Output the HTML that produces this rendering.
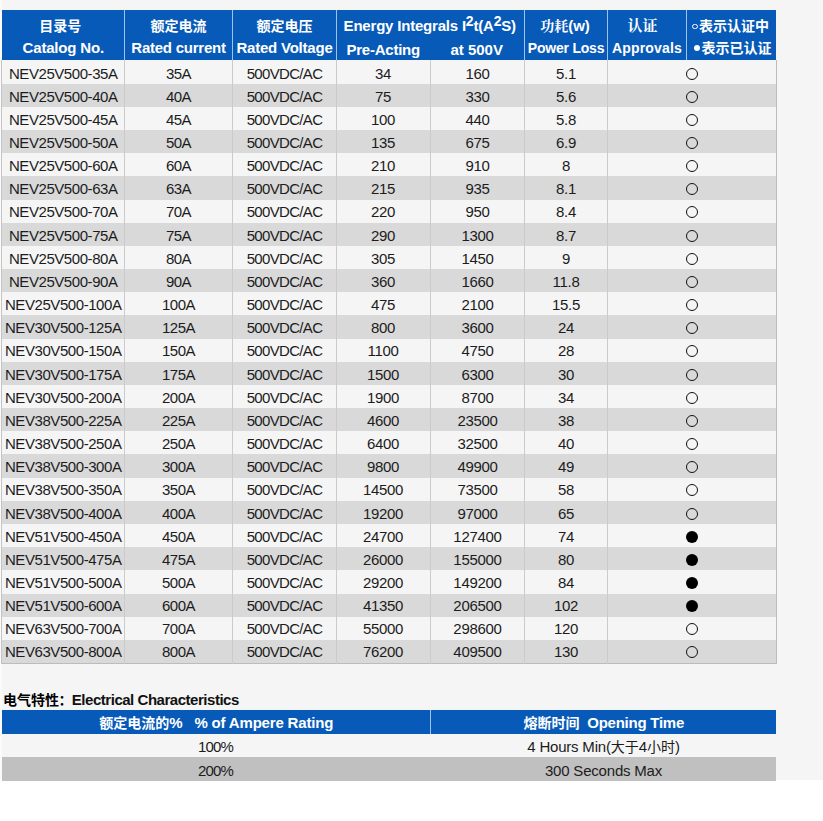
<!DOCTYPE html>
<html lang="en"><head><meta charset="utf-8"><title>NEV Fuse Specifications</title>
<style>
html,body{margin:0;padding:0;background:#fff}
body{width:823px;height:821px;position:relative;overflow:hidden;font-family:"Liberation Sans",sans-serif;font-size:15px;color:#1c1c1c}
.page{position:absolute;left:0;top:0;width:823px;height:780px;background:#f5f5f5}
span.cjk{display:inline;font-family:"Liberation Sans","Noto Sans CJK SC",sans-serif;font-size:14px;letter-spacing:0;white-space:nowrap}
span.cjk.serif{font-family:"Liberation Serif","Noto Serif CJK SC",serif}
table{border-collapse:collapse;table-layout:fixed;position:absolute;border-spacing:0}
th,td{padding:0 0 0 1px;margin:0;text-align:center;white-space:nowrap;overflow:visible;font-weight:normal}
#t1{left:2px;top:10px;width:774px}
#t1 th{background:#075ab8;color:#fff;font-weight:bold;height:50px;vertical-align:top;border-left:1px solid #9ec4ee;box-sizing:border-box}
#t1 th:first-child{border-left:none}
#t1 th .l{display:block;height:22.8px;line-height:22.8px}
#t1 th .l1{margin-top:4.6px}
#t1 td{vertical-align:top;line-height:17px;padding:4px 0 0 1px;border-left:1px solid #cbcbcb;box-sizing:border-box}
#t1 td:first-child{border-left:none}
#t1 tr.p32 td{padding-top:3.2px}
#t1 tr.p42 td{padding-top:4.2px}
#t1 tr.p52 td{padding-top:5.2px}
#t1 tr.o td{background:#f5f5f5}
#t1 tr.e td{background:#d9d9d9}
#t1 td{letter-spacing:-0.3px}
#t1 td.c1{letter-spacing:-0.43px}
#t1 td.c2{letter-spacing:-0.5px}
#t1 td.c3{letter-spacing:-0.68px}
#t1 td.c4{padding-left:0}
#t1 tbody{border-right:1px solid #bcbcbc;border-bottom:1px solid #bcbcbc}
#ls{position:absolute;left:0;top:0;width:2px;height:780px;background:#fbfbfb}
#lb{position:absolute;left:1px;top:60px;width:1px;height:604px;background:#c4c4c4}
sup{font-size:0.93em;line-height:0;vertical-align:5.4px}
.half{display:inline-block;text-align:center}
.ring{display:inline-block;width:12px;height:12px;border:1.1px solid #111;border-radius:50%;box-sizing:border-box;vertical-align:-0.8px}
.dot{display:inline-block;width:12px;height:12px;background:#000;border-radius:50%;vertical-align:-0.8px}
.sring{display:inline-block;width:5.6px;height:5.6px;border:1px solid #fff;border-radius:50%;box-sizing:border-box;vertical-align:1.2px;margin-right:1px}
.sdot{display:inline-block;width:6.6px;height:6.6px;background:#fff;border-radius:50%;vertical-align:2px;margin-right:1.2px}
#title{position:absolute;left:3px;top:689px;height:22px;line-height:22px;font-weight:bold;color:#111;white-space:nowrap;letter-spacing:-0.47px}
#t2{left:2px;top:710px;width:774px}
#t2 th{background:#075ab8;color:#fff;font-weight:bold;height:23px;line-height:21px;padding-top:2px;vertical-align:top;box-sizing:border-box}
#t2 th+th{border-left:1px solid #9ec4ee}
#t2 td{letter-spacing:-0.2px;height:23px;line-height:19px;padding:4px 0 0 1px;vertical-align:top;box-sizing:border-box}
#t2 tr.o td{background:#f5f5f5}
#t2 tr.e td{background:#c0c0c0}
</style></head>
<body>
<div class="page">
<table id="t1"><thead><tr><th style="width:122px"><span class="l l1"><span class="cjk" style="margin-right:6.2px;">目录号</span></span><span class="l" style="letter-spacing:-0.18px">Catalog No.</span></th><th style="width:108px"><span class="l l1"><span class="cjk">额定电流</span></span><span class="l" style="letter-spacing:-0.25px">Rated current</span></th><th style="width:104px"><span class="l l1"><span class="cjk">额定电压</span></span><span class="l" style="letter-spacing:-0.21px">Rated Voltage</span></th><th colspan="2" style="width:188px"><span class="l l1" style="margin-left:-1.6px;letter-spacing:-0.2px;position:relative;top:0.6px">Energy Integrals I<sup>2</sup>t(A<sup>2</sup>S)</span><span class="l" style="position:relative;top:1.7px"><span class="half" style="width:95px;margin-left:-2.6px;letter-spacing:-0.23px">Pre-Acting</span><span class="half" style="width:92px">at 500V</span></span></th><th style="width:83px"><span class="l l1" style="margin-left:-2px"><span class="cjk serif">功耗</span>(w)</span><span class="l" style="font-size:14px;letter-spacing:-0.21px">Power Loss</span></th><th style="width:79px"><span class="l l1"><span class="cjk serif" style="font-size:15px;margin-right:8.8px;">认证</span></span><span class="l" style="font-size:14px;letter-spacing:0.17px">Approvals</span></th><th style="width:90px"><span class="l l1" style="margin-left:-2px"><i class="sring"></i><span class="cjk">表示认证中</span></span><span class="l" style="padding-left:1.5px"><i class="sdot"></i><span class="cjk">表示已认证</span></span></th></tr></thead><tbody><tr class="o p52" style="height:24px"><td class="c1">NEV25V500-35A</td><td class="c2">35A</td><td class="c3">500VDC/AC</td><td class="c4">34</td><td>160</td><td>5.1</td><td colspan="2"><i class="ring"></i></td></tr><tr class="e p42" style="height:23px"><td class="c1">NEV25V500-40A</td><td class="c2">40A</td><td class="c3">500VDC/AC</td><td class="c4">75</td><td>330</td><td>5.6</td><td colspan="2"><i class="ring"></i></td></tr><tr class="o p42" style="height:23px"><td class="c1">NEV25V500-45A</td><td class="c2">45A</td><td class="c3">500VDC/AC</td><td class="c4">100</td><td>440</td><td>5.8</td><td colspan="2"><i class="ring"></i></td></tr><tr class="e p42" style="height:23px"><td class="c1">NEV25V500-50A</td><td class="c2">50A</td><td class="c3">500VDC/AC</td><td class="c4">135</td><td>675</td><td>6.9</td><td colspan="2"><i class="ring"></i></td></tr><tr class="o p42" style="height:23px"><td class="c1">NEV25V500-60A</td><td class="c2">60A</td><td class="c3">500VDC/AC</td><td class="c4">210</td><td>910</td><td>8</td><td colspan="2"><i class="ring"></i></td></tr><tr class="e p42" style="height:24px"><td class="c1">NEV25V500-63A</td><td class="c2">63A</td><td class="c3">500VDC/AC</td><td class="c4">215</td><td>935</td><td>8.1</td><td colspan="2"><i class="ring"></i></td></tr><tr class="o p32" style="height:23px"><td class="c1">NEV25V500-70A</td><td class="c2">70A</td><td class="c3">500VDC/AC</td><td class="c4">220</td><td>950</td><td>8.4</td><td colspan="2"><i class="ring"></i></td></tr><tr class="e p42" style="height:23px"><td class="c1">NEV25V500-75A</td><td class="c2">75A</td><td class="c3">500VDC/AC</td><td class="c4">290</td><td>1300</td><td>8.7</td><td colspan="2"><i class="ring"></i></td></tr><tr class="o p42" style="height:23px"><td class="c1">NEV25V500-80A</td><td class="c2">80A</td><td class="c3">500VDC/AC</td><td class="c4">305</td><td>1450</td><td>9</td><td colspan="2"><i class="ring"></i></td></tr><tr class="e p42" style="height:23px"><td class="c1">NEV25V500-90A</td><td class="c2">90A</td><td class="c3">500VDC/AC</td><td class="c4">360</td><td>1660</td><td>11.8</td><td colspan="2"><i class="ring"></i></td></tr><tr class="o p42" style="height:23px"><td class="c1">NEV25V500-100A</td><td class="c2">100A</td><td class="c3">500VDC/AC</td><td class="c4">475</td><td>2100</td><td>15.5</td><td colspan="2"><i class="ring"></i></td></tr><tr class="e p42" style="height:24px"><td class="c1">NEV30V500-125A</td><td class="c2">125A</td><td class="c3">500VDC/AC</td><td class="c4">800</td><td>3600</td><td>24</td><td colspan="2"><i class="ring"></i></td></tr><tr class="o p32" style="height:23px"><td class="c1">NEV30V500-150A</td><td class="c2">150A</td><td class="c3">500VDC/AC</td><td class="c4">1100</td><td>4750</td><td>28</td><td colspan="2"><i class="ring"></i></td></tr><tr class="e p42" style="height:23px"><td class="c1">NEV30V500-175A</td><td class="c2">175A</td><td class="c3">500VDC/AC</td><td class="c4">1500</td><td>6300</td><td>30</td><td colspan="2"><i class="ring"></i></td></tr><tr class="o p42" style="height:23px"><td class="c1">NEV30V500-200A</td><td class="c2">200A</td><td class="c3">500VDC/AC</td><td class="c4">1900</td><td>8700</td><td>34</td><td colspan="2"><i class="ring"></i></td></tr><tr class="e p42" style="height:23px"><td class="c1">NEV38V500-225A</td><td class="c2">225A</td><td class="c3">500VDC/AC</td><td class="c4">4600</td><td>23500</td><td>38</td><td colspan="2"><i class="ring"></i></td></tr><tr class="o p42" style="height:23px"><td class="c1">NEV38V500-250A</td><td class="c2">250A</td><td class="c3">500VDC/AC</td><td class="c4">6400</td><td>32500</td><td>40</td><td colspan="2"><i class="ring"></i></td></tr><tr class="e p42" style="height:24px"><td class="c1">NEV38V500-300A</td><td class="c2">300A</td><td class="c3">500VDC/AC</td><td class="c4">9800</td><td>49900</td><td>49</td><td colspan="2"><i class="ring"></i></td></tr><tr class="o p32" style="height:23px"><td class="c1">NEV38V500-350A</td><td class="c2">350A</td><td class="c3">500VDC/AC</td><td class="c4">14500</td><td>73500</td><td>58</td><td colspan="2"><i class="ring"></i></td></tr><tr class="e p42" style="height:23px"><td class="c1">NEV38V500-400A</td><td class="c2">400A</td><td class="c3">500VDC/AC</td><td class="c4">19200</td><td>97000</td><td>65</td><td colspan="2"><i class="ring"></i></td></tr><tr class="o p42" style="height:23px"><td class="c1">NEV51V500-450A</td><td class="c2">450A</td><td class="c3">500VDC/AC</td><td class="c4">24700</td><td>127400</td><td>74</td><td colspan="2"><i class="dot"></i></td></tr><tr class="e p42" style="height:23px"><td class="c1">NEV51V500-475A</td><td class="c2">475A</td><td class="c3">500VDC/AC</td><td class="c4">26000</td><td>155000</td><td>80</td><td colspan="2"><i class="dot"></i></td></tr><tr class="o p42" style="height:24px"><td class="c1">NEV51V500-500A</td><td class="c2">500A</td><td class="c3">500VDC/AC</td><td class="c4">29200</td><td>149200</td><td>84</td><td colspan="2"><i class="dot"></i></td></tr><tr class="e p32" style="height:23px"><td class="c1">NEV51V500-600A</td><td class="c2">600A</td><td class="c3">500VDC/AC</td><td class="c4">41350</td><td>206500</td><td>102</td><td colspan="2"><i class="dot"></i></td></tr><tr class="o p32" style="height:23px"><td class="c1">NEV63V500-700A</td><td class="c2">700A</td><td class="c3">500VDC/AC</td><td class="c4">55000</td><td>298600</td><td>120</td><td colspan="2"><i class="ring"></i></td></tr><tr class="e p32" style="height:23px"><td class="c1">NEV63V500-800A</td><td class="c2">800A</td><td class="c3">500VDC/AC</td><td class="c4">76200</td><td>409500</td><td>130</td><td colspan="2"><i class="ring"></i></td></tr></tbody></table>
<div id="ls"></div><div id="lb"></div>
<div id="title"><span class="cjk" style="color:#000">电气特性</span><span class="cjk" style="color:#000;margin-left:-0.5px;">：</span><span style="margin-left:-0.7px">Electrical Characteristics</span></div>
<table id="t2"><thead><tr><th style="width:428px"><span class="cjk">额定电流的</span><span style="letter-spacing:-0.18px">%&nbsp;&nbsp;&nbsp;% of Ampere Rating</span></th><th style="width:346px"><span class="cjk">熔断时间</span><span style="letter-spacing:-0.25px">&nbsp;&nbsp;Opening Time</span></th></tr></thead><tbody><tr class="o"><td style="letter-spacing:-0.85px;padding-top:2.5px;padding-right:2px">100%</td><td style="padding-top:2.5px">4 Hours Min(<span class="cjk">大于</span>4<span class="cjk">小时</span>)</td></tr><tr class="e" style="height:24px"><td style="letter-spacing:-0.85px;padding-right:2px">200%</td><td>300 Seconds Max</td></tr></tbody></table>
</div>
</body></html>
